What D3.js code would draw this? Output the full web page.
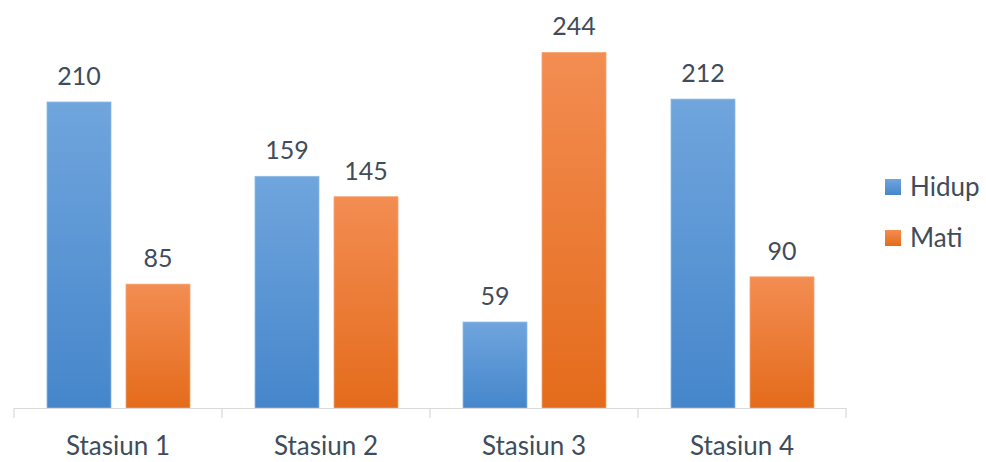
<!DOCTYPE html>
<html>
<head>
<meta charset="utf-8">
<script src="https://cdn.jsdelivr.net/npm/d3@7"></script>
<style>
  html, body { margin: 0; padding: 0; background: #ffffff; }
  svg { display: block; }
  text { font-family: Lato, "Open Sans", sans-serif; fill: #404c5c; }
</style>
</head>
<body>
<svg id="chart" width="986" height="462"></svg>
<script>
// Stations and the counts per status
const categories = ["Stasiun 1", "Stasiun 2", "Stasiun 3", "Stasiun 4"];
const seriesNames = ["Hidup", "Mati"];
const hidup = [210, 159, 59, 212];
const mati = [85, 145, 244, 90];

const seriesValues = [hidup, mati];
const colorTop = ["#70a5dd", "#f38d52"];
const colorBottom = ["#4586cb", "#e46b1b"];

const svg = d3.select("#chart");
const defs = svg.append("defs");

const plot = { left: 14, right: 846, top: 0, bottom: 408 };

const x = d3.scaleBand().domain(categories).range([plot.left, plot.right]).padding(0);
const xSub = d3.scaleBand().domain(seriesNames).range([33, 176]).paddingInner(0.19).paddingOuter(0);
const y = d3.scaleLinear().domain([0, 280]).range([plot.bottom, plot.top]);

// vertical gradient per series (light at the top, deeper at the base)
seriesNames.forEach((s, i) => {
  const g = defs.append("linearGradient")
    .attr("id", "grad" + i)
    .attr("x1", 0).attr("y1", 0).attr("x2", 0).attr("y2", 1);
  g.append("stop").attr("offset", "0%").attr("stop-color", colorTop[i]);
  g.append("stop").attr("offset", "100%").attr("stop-color", colorBottom[i]);
});

const rows = categories.map((c, ci) => ({
  category: c,
  values: seriesNames.map((s, si) => ({ series: s, si, value: seriesValues[si][ci] }))
}));

const groups = svg.selectAll("g.group")
  .data(rows)
  .join("g")
  .attr("class", "group")
  .attr("transform", d => `translate(${x(d.category)},0)`);

groups.selectAll("rect")
  .data(d => d.values)
  .join("rect")
  .attr("x", d => xSub(d.series))
  .attr("width", xSub.bandwidth())
  .attr("y", d => y(d.value))
  .attr("height", d => y(0) - y(d.value))
  .attr("fill", d => `url(#grad${d.si})`)
  .attr("stroke", d => d.si === 0 ? "#8dbbe8" : "#f5a373")
  .attr("stroke-width", 0.8);

groups.selectAll("text.value")
  .data(d => d.values)
  .join("text")
  .attr("class", "value")
  .attr("x", d => xSub(d.series) + xSub.bandwidth() / 2)
  .attr("y", d => y(d.value) - 17)
  .attr("text-anchor", "middle")
  .style("font-size", "25px")
  .text(d => d.value);

// category axis along the base
const axis = d3.axisBottom(x).tickSize(0).tickPadding(0);
const axisG = svg.append("g")
  .attr("transform", `translate(0,${plot.bottom})`)
  .call(axis);
axisG.select(".domain").attr("stroke", "#d9d9d9").attr("stroke-width", 1.2);
axisG.selectAll(".tick text")
  .attr("y", 47)
  .attr("dy", null)
  .style("font-size", "26px")
  .style("font-family", "Lato, 'Open Sans', sans-serif")
  .attr("fill", "#404c5c");

// boundary tick marks between categories
const bounds = categories.map(c => x(c)).concat([x(categories[categories.length - 1]) + x.bandwidth()]);
axisG.selectAll("line.bound")
  .data(bounds)
  .join("line")
  .attr("class", "bound")
  .attr("x1", d => d).attr("x2", d => d)
  .attr("y1", 0).attr("y2", 10)
  .attr("stroke", "#d9d9d9")
  .attr("stroke-width", 1.2);

// legend
const legend = svg.append("g").attr("transform", "translate(885,179)");
const items = legend.selectAll("g")
  .data(seriesNames)
  .join("g")
  .attr("transform", (d, i) => `translate(0,${i * 51})`);
items.append("rect")
  .attr("width", 16).attr("height", 16)
  .attr("fill", (d, i) => `url(#grad${i})`);
items.append("text")
  .attr("x", 25).attr("y", 17)
  .style("font-size", "26px")
  .text(d => d);
</script>
</body>
</html>
